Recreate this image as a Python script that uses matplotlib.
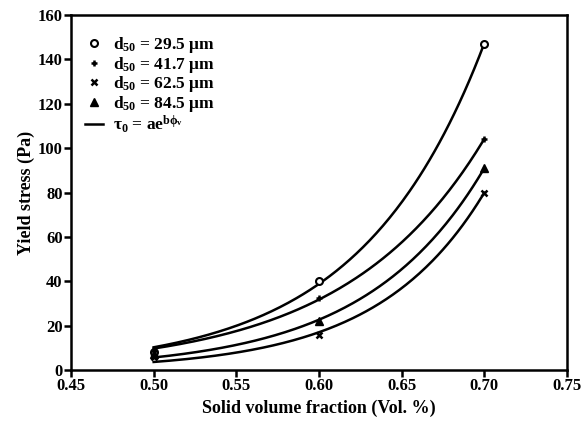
import numpy as np
import matplotlib.pyplot as plt
from matplotlib.lines import Line2D

plt.rcParams['font.family'] = 'Liberation Serif'
plt.rcParams['mathtext.fontset'] = 'custom'
plt.rcParams['mathtext.rm'] = 'Liberation Serif:bold'
plt.rcParams['mathtext.it'] = 'Liberation Serif:bold'
plt.rcParams['mathtext.bf'] = 'Liberation Serif:bold'

# volumenanteil und fliessgrenze
phi = [0.50, 0.60, 0.70]
y_295 = [8.0, 40.0, 147.0]
y_417 = [8.5, 32.5, 104.0]
y_625 = [6.0, 16.0, 80.0]
y_845 = [7.0, 22.0, 91.0]

labels = ['29.5', '41.7', '62.5', '84.5']
markers = ['o', '+', 'x', '^']


def fit_exp(x, y):
    # tau = a*exp(b*phi), kleinste quadrate ueber b-raster
    x = np.asarray(x)
    y = np.asarray(y)
    best = None
    for b in np.linspace(1, 40, 4000):
        e = np.exp(b * x)
        a = np.sum(y * e) / np.sum(e * e)
        r = np.sum((y - a * e) ** 2)
        if best is None or r < best[0]:
            best = (r, a, b)
    return best[1], best[2]


fig, ax = plt.subplots(figsize=(5.85, 4.3), dpi=100)
fig.subplots_adjust(left=0.1214, right=0.969, bottom=0.1395, top=0.965)

xs = np.linspace(0.5, 0.7, 200)
for ys, m in zip([y_295, y_417, y_625, y_845], markers):
    a, b = fit_exp(phi, ys)
    ax.plot(xs, a * np.exp(b * xs), color='black', lw=1.8)
    if m == 'o':
        ax.plot(phi, ys, ls='none', marker='o', ms=5, mfc='white', mec='black', mew=1.5)
    elif m == '^':
        ax.plot(phi, ys, ls='none', marker='^', ms=6, color='black')
    else:
        ax.plot(phi, ys, ls='none', marker=m, ms=5, mew=1.8, color='black')

ax.set_xlim(0.45, 0.75)
ax.set_ylim(0, 160)
ax.set_xticks(np.arange(0.45, 0.76, 0.05))
ax.set_yticks(np.arange(0, 161, 20))
ax.set_xticklabels([f'{v:.2f}' for v in np.arange(0.45, 0.76, 0.05)])
for s in ax.spines.values():
    s.set_linewidth(1.8)
ax.tick_params(direction='out', length=5, width=1.8, labelsize=12, pad=1,
               top=False, right=False)
for lab in ax.get_xticklabels() + ax.get_yticklabels():
    lab.set_fontweight('bold')

ax.set_xlabel('Solid volume fraction (Vol. %)', fontsize=13, fontweight='bold', labelpad=4)
ax.set_ylabel('Yield stress (Pa)', fontsize=13, fontweight='bold', labelpad=2)

handles = [
    Line2D([], [], ls='none', marker='o', ms=5, mfc='white', mec='black', mew=1.5),
    Line2D([], [], ls='none', marker='+', ms=5, mew=1.8, color='black'),
    Line2D([], [], ls='none', marker='x', ms=5, mew=1.8, color='black'),
    Line2D([], [], ls='none', marker='^', ms=6, color='black'),
    Line2D([], [], color='black', lw=1.8),
]
texts = [f'd$_{{50}}$ = {l} μm' for l in labels] + [r'$\tau_0$ = ae$^{b\phi_v}$']
leg = ax.legend(handles, texts, loc='upper left', frameon=False, fontsize=12.5,
                handlelength=1.0, handletextpad=0.6, labelspacing=-0.03,
                borderaxespad=0.0, bbox_to_anchor=(0.015, 0.962))
for t in leg.get_texts():
    t.set_fontweight('bold')

fig.savefig('out.png', dpi=100)
